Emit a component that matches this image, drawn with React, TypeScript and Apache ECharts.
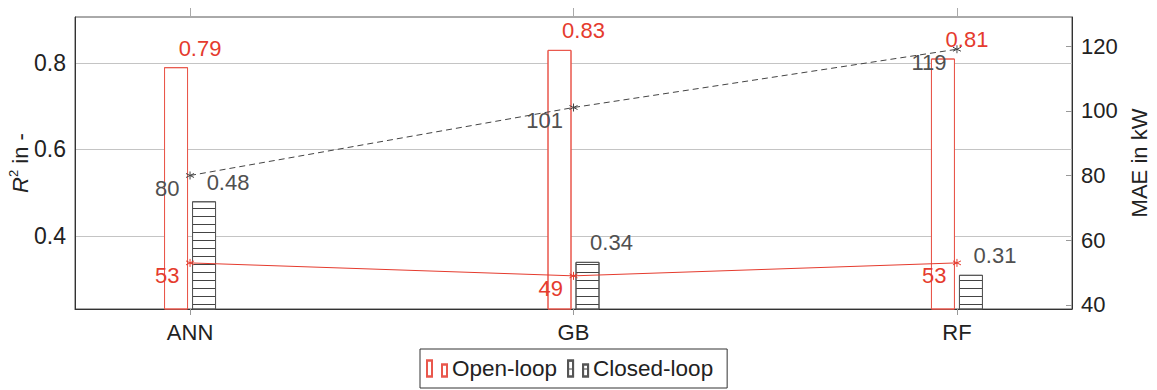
import React, { useEffect, useRef } from "react";
import * as echarts from "echarts";

const categories = ["ANN", "GB", "RF"];
const r2Open = [0.79, 0.83, 0.81];
const r2Closed = [0.48, 0.34, 0.31];
const maeOpen = [53, 49, 53];
const maeClosed = [80, 101, 119];
const r2Ticks = [0.4, 0.6, 0.8];
const maeTicks = [40, 60, 80, 100, 120];
const catTicks = [0, 1, 2];

const RED = "#e53b2e";
const RED_BAR = "#e9574c";
const GRAY_TXT = "#505050";
const ASTERISK = "path://M0,-5L0,5M-4.33,-2.5L4.33,2.5M-4.33,2.5L4.33,-2.5";
const LEGEND_ICON = "path://M0,0h5v16h-5zM15,4h5v12h-5z";
const FONT = "Liberation Sans, Arial, sans-serif";

const CHART_W = 1157;
const BAR_W = 24;
const BAR_GAP_PX = 4;

export default function App() {
  const ref = useRef<HTMLDivElement>(null);
  useEffect(() => {
    if (!ref.current) return;
    const chart = echarts.init(ref.current, undefined, { renderer: "svg" });
    const xy = (vals: number[]) => vals.map((v, i) => [i, v]);
    chart.setOption({
      animation: false,
      aria: {
        enabled: true,
        decal: {
          show: true,
          decals: [
            { symbol: "rect", color: "rgba(0,0,0,0)", backgroundColor: "rgba(0,0,0,0)" },
            {
              symbol: "rect",
              symbolSize: 1,
              color: "#444",
              backgroundColor: "#ffffff",
              dashArrayX: [1, 0],
              dashArrayY: [1, 6.5],
              rotation: 0,
            },
          ],
        },
      },
      textStyle: { fontFamily: FONT },
      grid: {
        left: 75,
        right: 85,
        top: 17,
        bottom: 81,
        outerBoundsMode: "none",
        containLabel: false,
        show: true,
        borderColor: "#555",
        borderWidth: 1,
        backgroundColor: "transparent",
      },
      legend: {
        data: [
          { name: "Open-loop", icon: LEGEND_ICON },
          { name: "Closed-loop", icon: LEGEND_ICON },
        ],
        left: 420,
        top: 349,
        itemWidth: 20,
        itemHeight: 16,
        itemGap: 10,
        padding: [8, 14, 8, 6],
        borderColor: "#333",
        borderWidth: 1,
        selectedMode: false,
        textStyle: { fontSize: 22.5, color: "#222", fontFamily: FONT },
      },
      xAxis: [
        {
          type: "value",
          min: -0.3,
          max: 2.3,
          position: "bottom",
          axisLine: { show: true, onZero: false, lineStyle: { color: "#333" } },
          axisTick: { show: true, customValues: catTicks, inside: false, length: 6, lineStyle: { color: "#999" } },
          axisLabel: {
            customValues: catTicks,
            formatter: (v: number) => categories[Math.round(v)] ?? "",
            fontSize: 22,
            color: "#222",
            margin: 12,
          },
          splitLine: { show: false },
        },
        {
          type: "value",
          min: -0.3,
          max: 2.3,
          position: "top",
          axisLine: { show: false, onZero: false },
          axisTick: { show: true, customValues: catTicks, inside: false, length: 9, lineStyle: { color: "#aaa" } },
          axisLabel: { show: false, customValues: catTicks },
          splitLine: { show: false },
        },
      ],
      yAxis: [
        {
          type: "value",
          min: 0.231,
          max: 0.906,
          position: "left",
          name: "{i|R}{s|2} in -",
          nameLocation: "middle",
          nameRotate: 90,
          nameGap: 41,
          nameMoveOverlap: false,
          nameTextStyle: {
            fontSize: 22,
            color: "#222",
            rich: {
              i: { fontStyle: "italic", fontSize: 22, color: "#222" },
              s: { fontSize: 13, color: "#222", padding: [0, 0, 14, 0] },
            },
          },
          axisLine: { show: true, onZero: false, lineStyle: { color: "#333" } },
          axisTick: { show: false, customValues: r2Ticks },
          axisLabel: { customValues: r2Ticks, fontSize: 23, color: "#222", margin: 9, formatter: (v: number) => String(v) },
          splitLine: { show: true, lineStyle: { color: "#c4c4c4", width: 1 } },
        },
        {
          type: "value",
          min: 38.76,
          max: 128.96,
          position: "right",
          name: "MAE in kW",
          nameLocation: "middle",
          nameRotate: 90,
          nameGap: 56,
          nameMoveOverlap: false,
          nameTextStyle: { fontSize: 22, color: "#222" },
          axisLine: { show: true, onZero: false, lineStyle: { color: "#333" } },
          axisTick: { show: true, inside: true, length: 6, customValues: maeTicks, lineStyle: { color: "#999" } },
          axisLabel: { customValues: maeTicks, fontSize: 22, color: "#222", margin: 9 },
          splitLine: { show: false },
        },
      ],
      series: [
        {
          name: "Open-loop",
          type: "bar",
          data: xy(r2Open),
          barWidth: BAR_W,
          barGap: `${(BAR_GAP_PX / BAR_W) * 100}%`,
          yAxisIndex: 0,
          itemStyle: { color: "#ffffff", borderColor: RED_BAR, borderWidth: 1 },
          label: {
            show: true,
            position: "top",
            distance: 8,
            offset: [24, 0],
            fontSize: 22,
            color: RED,
            formatter: (p: any) => p.value[1].toFixed(2),
          },
          z: 2,
        },
        {
          name: "Closed-loop",
          type: "bar",
          data: xy(r2Closed),
          barWidth: BAR_W,
          barGap: `${(BAR_GAP_PX / BAR_W) * 100}%`,
          yAxisIndex: 0,
          itemStyle: { color: "#ffffff", borderColor: "#555", borderWidth: 1 },
          label: {
            show: true,
            position: "top",
            distance: 8,
            offset: [24, 0],
            fontSize: 22,
            color: GRAY_TXT,
            formatter: (p: any) => p.value[1].toFixed(2),
          },
          z: 2,
        },
        {
          name: "MAE Open-loop",
          type: "line",
          yAxisIndex: 1,
          data: xy(maeOpen),
          symbol: ASTERISK,
          symbolSize: 8,
          lineStyle: { color: RED, width: 1 },
          itemStyle: { color: RED, borderColor: RED, borderWidth: 1 },
          label: {
            show: true,
            position: "left",
            distance: 6,
            offset: [0, 13],
            fontSize: 22,
            color: RED,
            formatter: (p: any) => String(p.value[1]),
          },
          z: 5,
        },
        {
          name: "MAE Closed-loop",
          type: "line",
          yAxisIndex: 1,
          data: xy(maeClosed),
          symbol: ASTERISK,
          symbolSize: 8,
          lineStyle: { color: "#444", width: 1, type: [6, 4] },
          itemStyle: { color: "#444", borderColor: "#444", borderWidth: 1 },
          label: {
            show: true,
            position: "left",
            distance: 6,
            offset: [0, 13],
            fontSize: 22,
            color: GRAY_TXT,
            formatter: (p: any) => String(p.value[1]),
          },
          z: 5,
        },
      ],
    });
    return () => chart.dispose();
  }, []);
  return (
    <div
      ref={ref}
      style={{ position: "absolute", left: 0, top: 0, width: CHART_W, height: 390, background: "#fff" }}
    />
  );
}
